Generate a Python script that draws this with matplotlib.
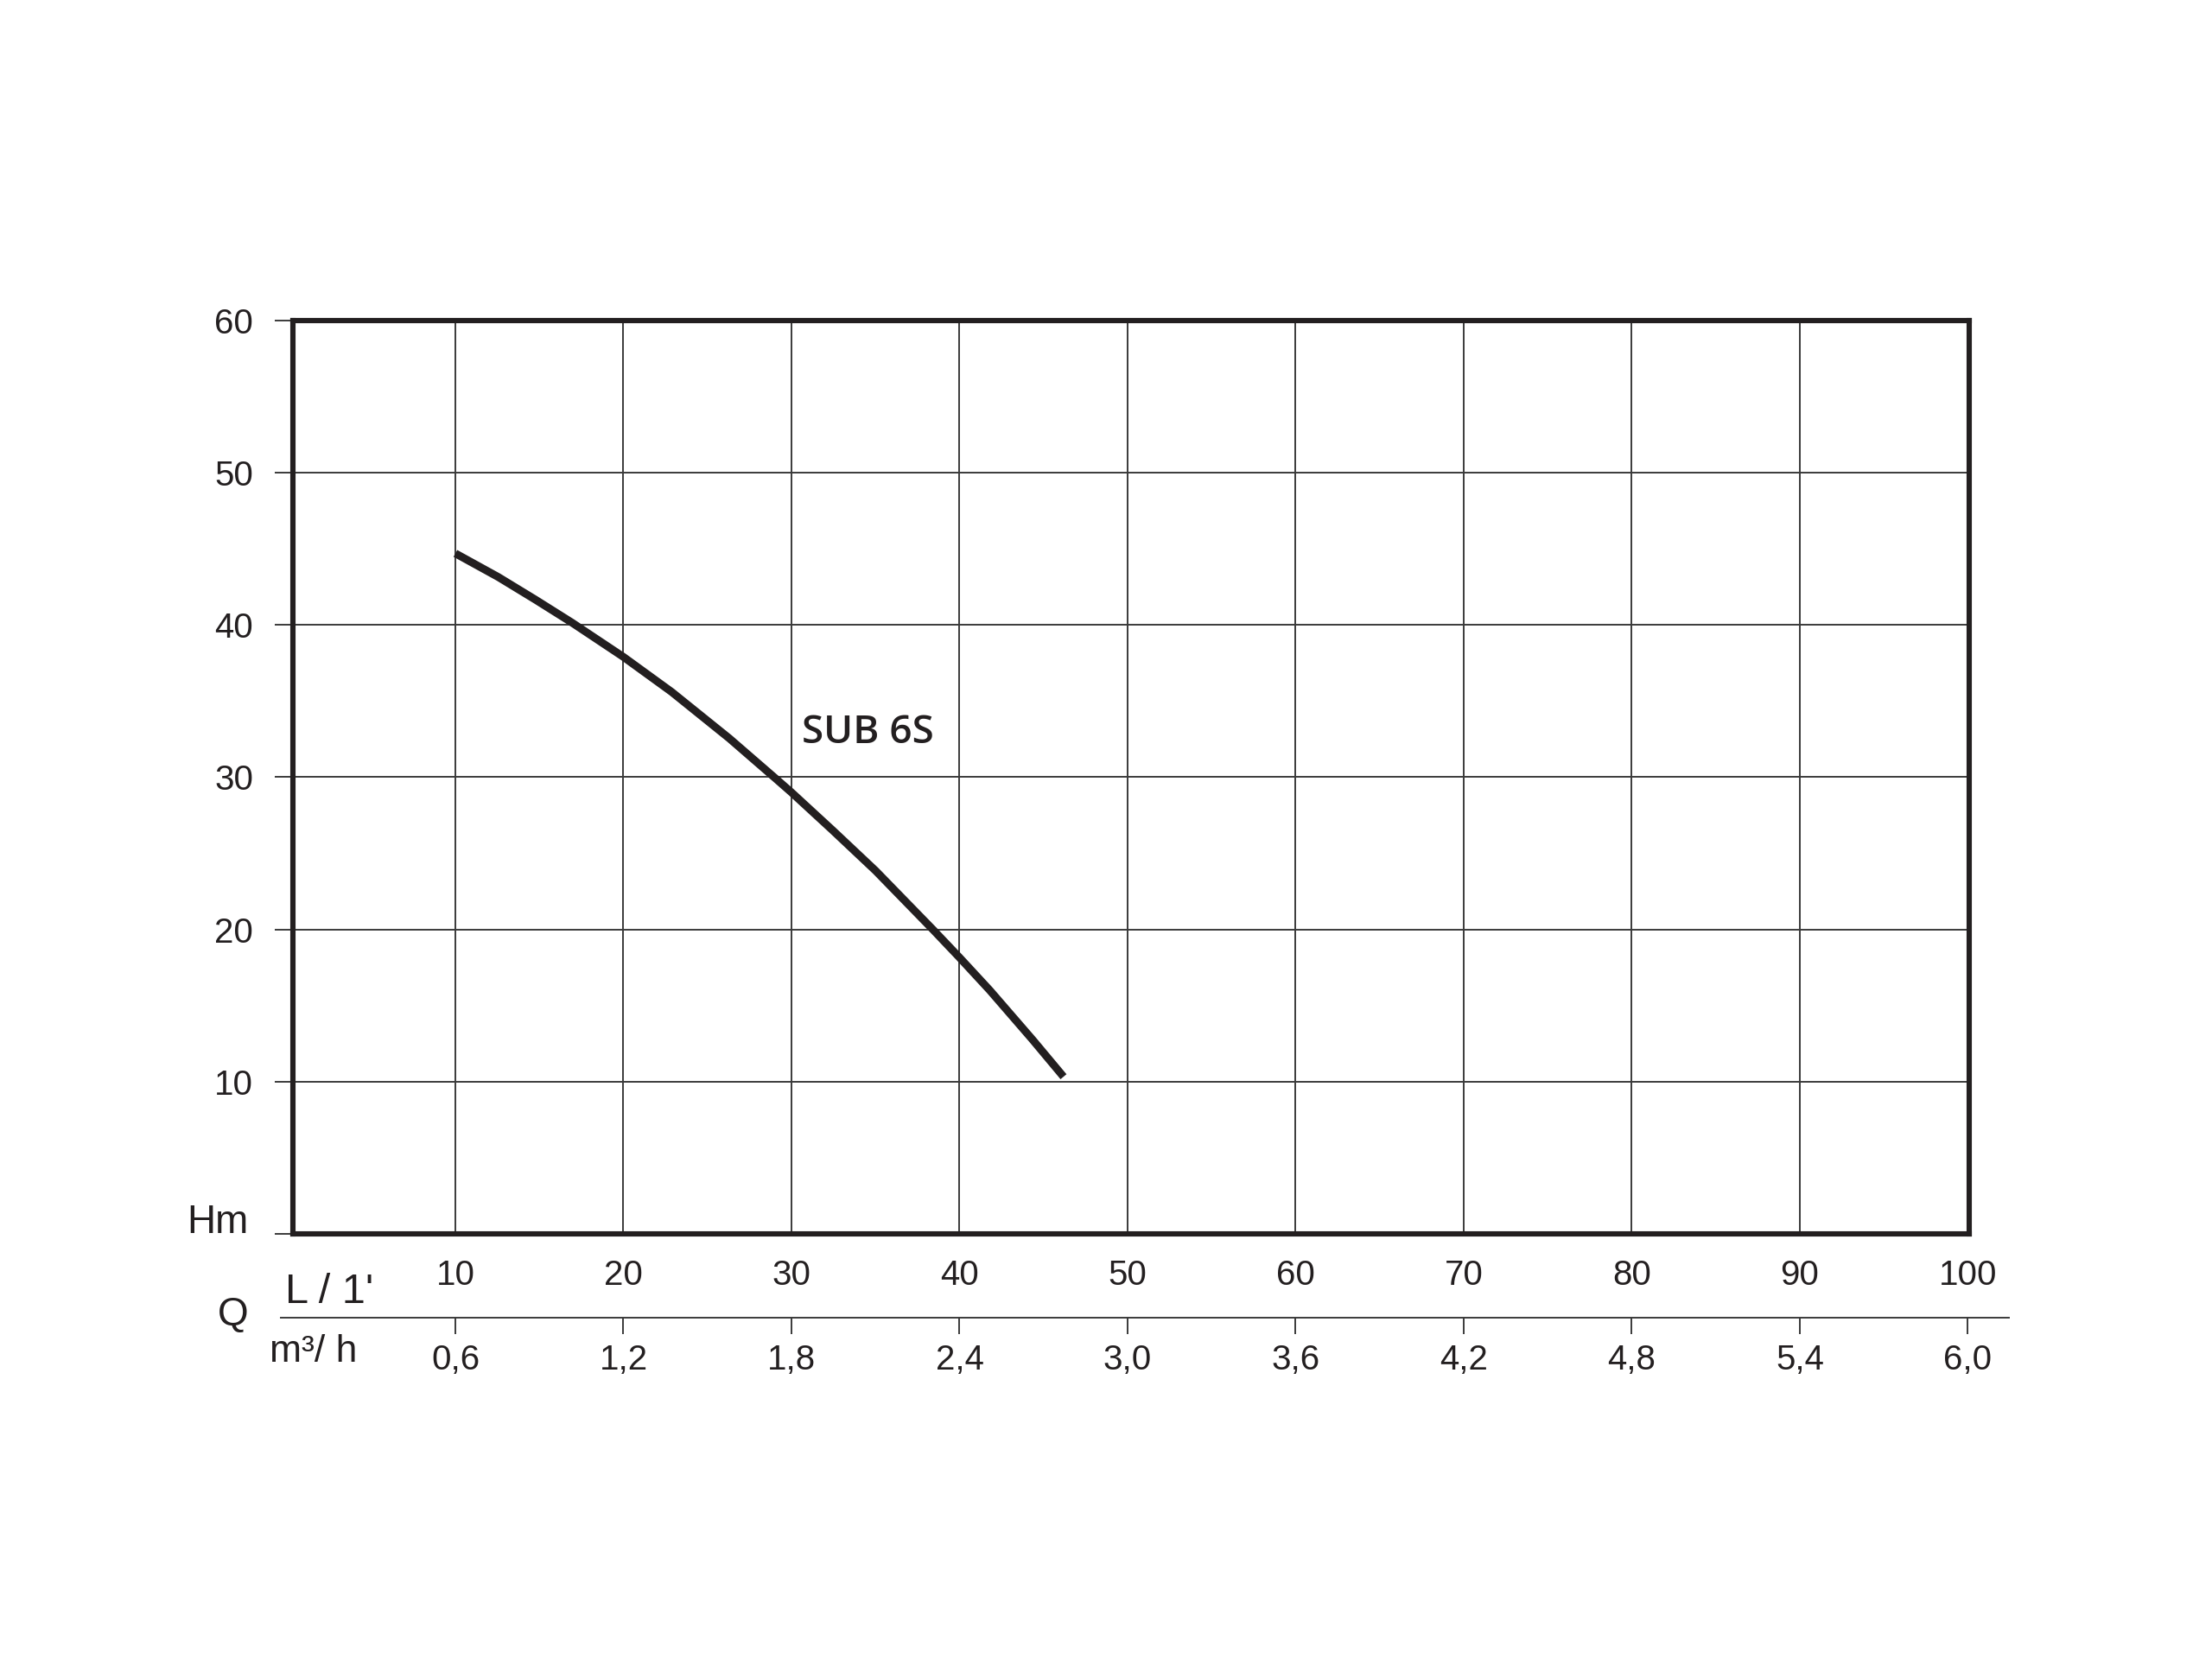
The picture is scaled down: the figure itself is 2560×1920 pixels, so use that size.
import matplotlib
matplotlib.use('Agg')
import matplotlib.pyplot as plt

# Curva SUB 6S (Q en L/min, H en m)
q_lpm = [10, 12.55, 14.78, 16.94, 20, 22.87, 26.3, 29.07, 30, 32.46,
         35.01, 38.45, 40, 41.8, 44.35, 46.19]
h_m = [44.7, 43.15, 41.65, 40.15, 37.9, 35.6, 32.55, 29.9, 29.0, 26.5,
       23.85, 19.95, 18.15, 16.0, 12.75, 10.32]

y_ticks = [0, 10, 20, 30, 40, 50, 60]
x_ticks = [10, 20, 30, 40, 50, 60, 70, 80, 90, 100]
m3h_ticks = [0.6, 1.2, 1.8, 2.4, 3.0, 3.6, 4.2, 4.8, 5.4, 6.0]
curve_label = 'SUB 6S'

ink = '#231f20'
grid_c = '#3a3a3a'
tick_font = ['Liberation Sans', 'DejaVu Sans']

fig = plt.figure(figsize=(25.6, 19.2), dpi=100)
ax = fig.add_axes([0.1324, 0.2563, 0.7578, 0.5505])

ax.plot(q_lpm, h_m, color=ink, lw=6.5, solid_capstyle='butt',
        solid_joinstyle='round', zorder=3)
ax.text(30.6, 32.9, curve_label, ha='left', va='center', fontsize=33,
        fontfamily=['Open Sans', 'DejaVu Sans'], fontweight='semibold', color=ink)

ax.set_xlim(0.33, 100.08)
ax.set_ylim(0, 60)
ax.set_xticks(x_ticks)
ax.set_xticklabels([str(v) for v in x_ticks])
ax.set_yticks(y_ticks)
ax.set_yticklabels([''] + [str(v) for v in y_ticks[1:]])
ax.grid(True, color=grid_c, lw=1.4)
ax.set_axisbelow(True)

for s in ax.spines.values():
    s.set_linewidth(4.4)
    s.set_color(ink)
    s.set_zorder(4)

ax.tick_params(axis='x', length=0, pad=21, labelsize=29, labelcolor=ink)
ax.tick_params(axis='y', length=15, width=1.4, color=grid_c, pad=18,
               labelsize=29, labelcolor=ink)
for lab in ax.get_xticklabels() + ax.get_yticklabels():
    lab.set_fontfamily(tick_font)

# Segunda escala: m3/h
sec = ax.secondary_xaxis(-0.092, functions=(lambda q: q * 0.06, lambda m: m / 0.06))
sec.set_xticks(m3h_ticks)
sec.set_xticklabels([f'{v:.1f}'.replace('.', ',') for v in m3h_ticks])
sec.spines['bottom'].set_visible(False)
sec.tick_params(axis='x', length=13.5, width=1.4, color=grid_c, pad=8,
                labelsize=29, labelcolor=ink)
for lab in sec.get_xticklabels():
    lab.set_fontfamily(tick_font)
ax.plot([-0.007, 1.024], [-0.092, -0.092], transform=ax.transAxes,
        clip_on=False, color=grid_c, lw=1.4)

# Nombres de los ejes
fig.text(287 / 2560, 1 - 1427 / 1920, 'Hm', ha='right', va='baseline', fontsize=33,
         fontfamily=tick_font, color=ink)
fig.text(330 / 2560, 1 - 1508 / 1920, "L / 1'", ha='left', va='baseline', fontsize=35,
         fontfamily=tick_font, color=ink)
fig.text(270 / 2560, 1 - 1522 / 1920, 'Q', ha='center', va='center', fontsize=33,
         fontfamily=tick_font, color=ink)
fig.text(312 / 2560, 1 - 1576 / 1920, 'm³/ h', ha='left', va='baseline', fontsize=32,
         fontfamily=tick_font, color=ink)

fig.savefig('out.png', dpi=100, facecolor='white')
